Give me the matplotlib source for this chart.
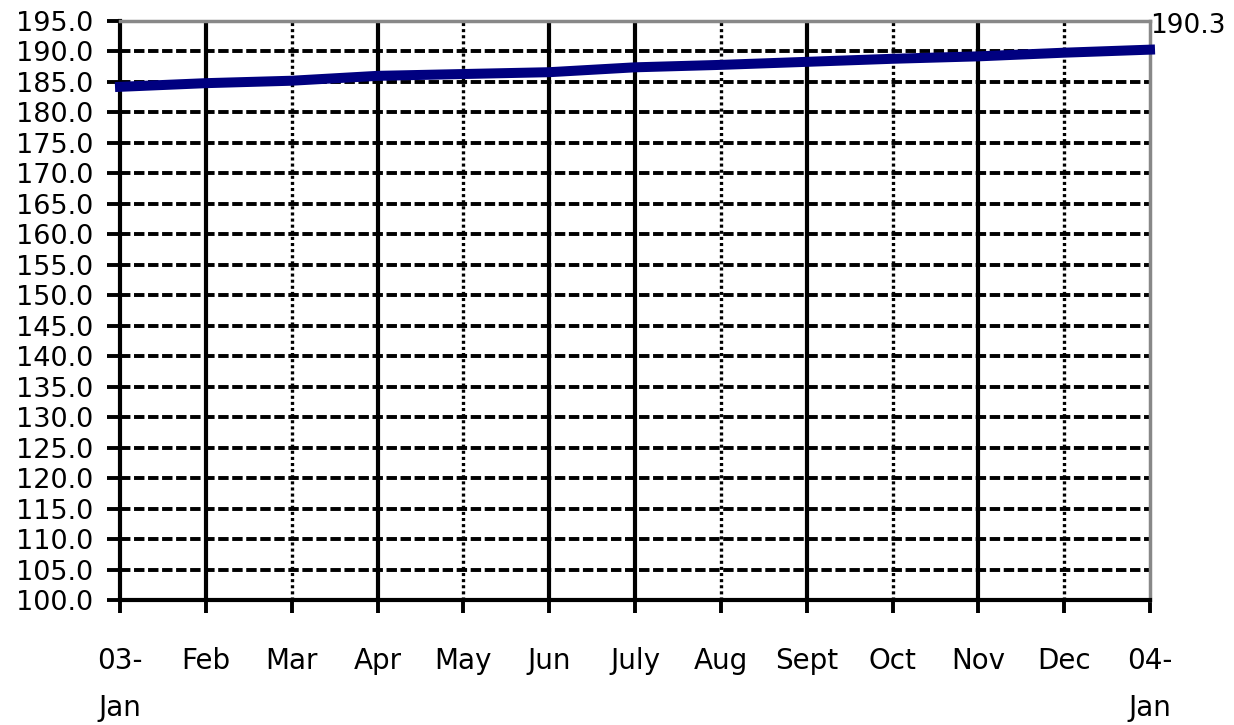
"""Monthly index, Jan 2003 to Jan 2004: thick navy line on a dashed grid."""

import matplotlib
matplotlib.use("Agg")
import matplotlib.pyplot as plt

# ── Data ──────────────────────────────────────────────────────────────
months = ["03-\nJan", "Feb", "Mar", "Apr", "May", "Jun", "July",
          "Aug", "Sept", "Oct", "Nov", "Dec", "04-\nJan"]
index_values = [184.2, 184.8, 185.2, 186.0, 186.3, 186.6, 187.4,
                187.8, 188.3, 188.8, 189.2, 189.8, 190.3]
y_ticks = [100.0 + 5.0 * k for k in range(20)]
end_label = "190.3"

# which interior month lines are drawn solid (rest are dotted)
solid_months = {"Feb", "Apr", "Jun", "July", "Sept", "Nov"}

plt.rcParams["lines.scale_dashes"] = False

fig = plt.figure(figsize=(12.34, 7.25), dpi=100)
ax = fig.add_axes([120 / 1234, 125 / 725, 1030 / 1234, 579 / 725])

x = list(range(len(months)))

# horizontal dashed grid
for v in y_ticks[1:-1]:
    ax.axhline(v, color="black", linewidth=2.8, linestyle=(0, (7.5, 2.6)),
               zorder=1)

# vertical month lines, alternating solid / dotted
for xi, m in zip(x[1:-1], months[1:-1]):
    if m in solid_months:
        ax.axvline(xi, color="black", linewidth=3.0, zorder=1)
    else:
        ax.axvline(xi, color="black", linewidth=2.4,
                   linestyle=(0, (2.2, 2.2)), zorder=1)

ax.plot(x, index_values, color="#000080", linewidth=7.2,
        solid_capstyle="projecting", zorder=3, clip_on=False)

ax.annotate(end_label, xy=(x[-1], index_values[-1]), xytext=(0, 8),
            textcoords="offset points", ha="left", va="bottom",
            fontsize=19, color="black", annotation_clip=False)

ax.set_xlim(0, len(months) - 1)
ax.set_ylim(100, 195)
ax.set_yticks(y_ticks)
ax.set_yticklabels([f"{v:.1f}" for v in y_ticks], fontsize=19.5)
ax.set_xticks(x)
ax.set_xticklabels(months, fontsize=20, linespacing=1.9, va="top")

ax.tick_params(axis="y", length=9.5, width=2.8, pad=10, direction="out")
ax.tick_params(axis="x", length=9.5, width=2.8, pad=24, direction="out")

for side in ("left", "bottom"):
    ax.spines[side].set_color("black")
    ax.spines[side].set_linewidth(3.0)
for side in ("top", "right"):
    ax.spines[side].set_color("#888888")
    ax.spines[side].set_linewidth(2.5)

fig.savefig("out.png", dpi=100)
